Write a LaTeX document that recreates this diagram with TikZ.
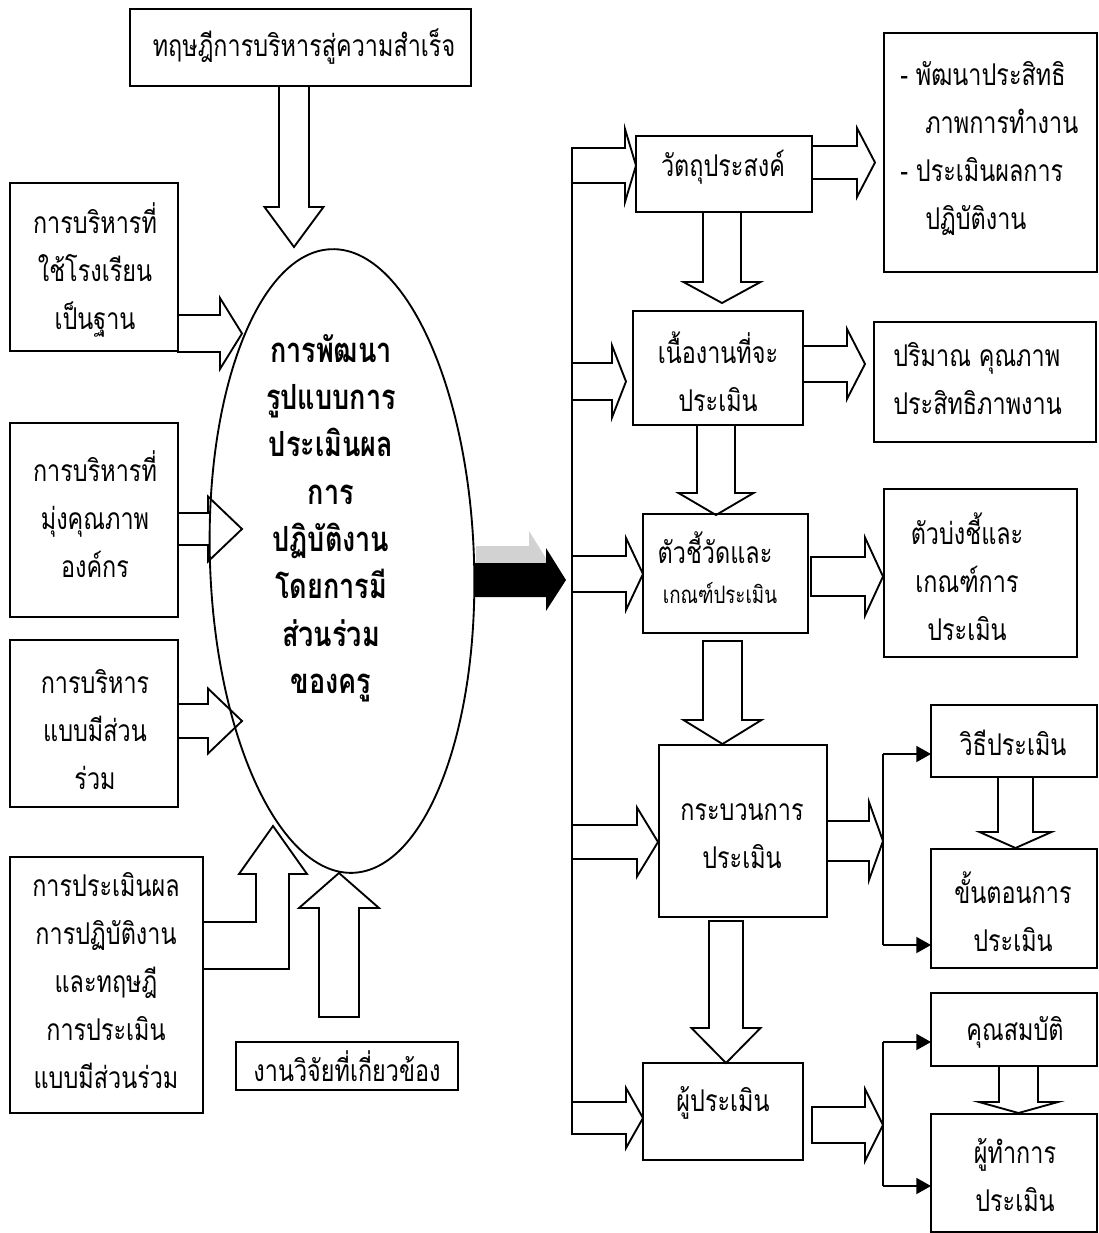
\documentclass[tikz,border=0pt]{standalone}
\usepackage{fontspec}
\newfontfamily\thaifont[Script=Thai,FakeStretch=0.78]{Loma}
\usetikzlibrary{fit,arrows.meta,shapes.geometric}
\newcommand{\RA}[6]{% x0, yc, shaft half, head half, x of head base, x of tip
  \draw[blk] (#1,#2-#3) -- (#5,#2-#3) -- (#5,#2-#4) -- (#6,#2) -- (#5,#2+#4) -- (#5,#2+#3) -- (#1,#2+#3) -- cycle;}
\newcommand{\DA}[6]{% xc, y0, shaft half, head half, y of head base, y of tip
  \draw[blk] (#1-#3,#2) -- (#1-#3,#5) -- (#1-#4,#5) -- (#1,#6) -- (#1+#4,#5) -- (#1+#3,#5) -- (#1+#3,#2) -- cycle;}
\begin{document}
\begin{tikzpicture}[x=0.75pt,y=-0.75pt,
  box/.style={draw, line width=1.4pt, inner sep=0pt, outer sep=0pt},
  blk/.style={draw, line width=1.4pt, line join=miter},
  txt/.style={font=\thaifont\fontsize{22.5}{36}\selectfont, align=center, inner sep=0pt},
  txtl/.style={font=\thaifont\fontsize{22.5}{36}\selectfont, align=left, inner sep=0pt, anchor=west},
  txtb/.style={font=\thaifont\bfseries\fontsize{26}{35.5}\selectfont, align=center, inner sep=0pt},
  thinl/.style={draw, line width=1.4pt},
  brarr/.style={draw, line width=1.4pt, -{Triangle[length=11pt,width=12pt]}}]
\useasboundingbox (0,0) rectangle (1099,1233);

% ---------------- left part ----------------
\node[box, fit={(130,9) (471,86)}] (T) {};
\node[txt] (Tt) at (304,47) {ทฤษฎีการบริหารสู่ความสำเร็จ};
\DA{294}{86}{15}{29.5}{207}{247}

\node[draw, ellipse, line width=1.4pt, minimum width=198pt, minimum height=468pt, inner sep=0pt, rotate=2] (E) at (342,561) {};
\node[txtb] (Et) at (331,518) {การพัฒนา\\รูปแบบการ\\ประเมินผล\\การ\\ปฏิบัติงาน\\โดยการมี\\ส่วนร่วม\\ของครู};

\node[box, fit={(10,183) (178,351)}] (L1) {};
\node[txt] (L1t) at (95,270) {การบริหารที่\\ใช้โรงเรียน\\เป็นฐาน};
\RA{178}{333.5}{18.5}{35.5}{220}{242}

\node[box, fit={(10,423) (178,617)}] (L2) {};
\node[txt] (L2t) at (95,514) {การบริหารที่\\มุ่งคุณภาพ\\องค์กร};
\RA{178}{529}{16}{32.5}{208}{242}

\node[box, fit={(10,640) (178,807)}] (L3) {};
\node[txt] (L3t) at (95,730) {การบริหาร\\แบบมีส่วน\\ร่วม};
\RA{178}{721}{17}{32.5}{208}{242}

\node[box, fit={(10,857) (203,1113)}] (L4) {};
\node[txt] (L4t) at (106,981) {การประเมินผล\\การปฏิบัติงาน\\และทฤษฎี\\การประเมิน\\แบบมีส่วนร่วม};
\draw[blk] (L4.east |- 0,922) -- (256,922) -- (256,874) -- (239,874) -- (273,826) -- (307,874) -- (289,874) -- (289,969) -- (L4.east |- 0,969);

\node[box, fit={(236,1042) (458,1090)}] (R) {};
\node[txt] (Rt) at (347,1066) {งานวิจัยที่เกี่ยวข้อง};
\DA{339}{1017}{20}{40}{908}{873}

% ---------------- big black arrow ----------------
\fill[gray!35] (476,546) -- (529,546) -- (529,531) -- (549,563) -- (529,594) -- (529,580) -- (476,580) -- cycle;
\fill[black] (474,563) -- (546,563) -- (546,548) -- (566,580) -- (546,611) -- (546,597) -- (474,597) -- cycle;

% ---------------- spine ----------------
\coordinate (vtop) at (572,148);
\coordinate (vbot) at (572,1134);
\draw[thinl] (vtop) -- (vbot);
\RA{572}{165.5}{17.5}{36.5}{625}{636}
\RA{572}{381.5}{18.5}{36}{612}{626}
\RA{572}{574}{18}{36}{626}{643}
\RA{572}{842}{17}{34.5}{637}{658}
\RA{572}{1118}{16}{30}{626}{643}

% ---------------- column 1 ----------------
\node[box, fit={(636,136) (812,212)}] (B1) {};
\node[txt] (B1t) at (723,167) {วัตถุประสงค์};
\node[box, fit={(633,311) (803,425)}] (B2) {};
\node[txt] (B2t) at (718,372) {เนื้องานที่จะ\\ประเมิน};
\node[box, fit={(643,514) (808,633)}] (B3) {};
\node[txt] (B3a) at (715,548) {ตัวชี้วัดและ};
\node[txt, font=\thaifont\fontsize{18}{20}\selectfont] (B3b) at (720,593) {เกณฑ์ประเมิน};
\node[box, fit={(659,745) (827,917)}] (B4) {};
\node[txt] (B4t) at (742,836) {กระบวนการ\\ประเมิน};
\node[box, fit={(643,1063) (803,1160)}] (B5) {};
\node[txt] (B5t) at (723,1103) {ผู้ประเมิน};

\DA{722}{212}{19}{38.5}{282}{303}
\DA{716}{425}{19}{37.5}{493}{515}
\DA{722.5}{641}{19.5}{39}{720}{744}
\DA{726}{921}{17}{34.5}{1028}{1063}

\RA{812}{162.5}{16.5}{34.5}{857}{875}
\RA{803}{364}{18}{35}{847}{865}
\RA{811}{576.5}{19.5}{39}{865}{883}
\RA{827}{841}{20}{39}{869}{883}
\RA{812}{1125}{18}{36}{865}{883}

% ---------------- column 2 ----------------
\node[box, fit={(884,33) (1097,272)}] (C1) {};
\node[txtl] (C1t) at (900,148.5) {- พัฒนาประสิทธิ\\\hspace*{18.75pt}ภาพการทำงาน\\- ประเมินผลการ\\\hspace*{18.75pt}ปฏิบัติงาน};
\node[box, fit={(874,322) (1096,442)}] (C2) {};
\node[txtl] (C2t) at (893,379) {ปริมาณ คุณภาพ\\ประสิทธิภาพงาน};
\node[box, fit={(884,489) (1077,657)}] (C3) {};
\node[txt] (C3t) at (967,577) {ตัวบ่งชี้และ\\เกณฑ์การ\\ประเมิน};
\node[box, fit={(931,705) (1097,777)}] (C4) {};
\node[txt] (C4t) at (1013,743) {วิธีประเมิน};
\node[box, fit={(931,849) (1097,968)}] (C5) {};
\node[txt] (C5t) at (1013,912) {ขั้นตอนการ\\ประเมิน};
\node[box, fit={(931,993) (1097,1066)}] (C6) {};
\node[txt] (C6t) at (1015,1032) {คุณสมบัติ};
\node[box, fit={(931,1114) (1097,1232)}] (C7) {};
\node[txt] (C7t) at (1015,1175) {ผู้ทำการ\\ประเมิน};

\DA{1015.5}{777}{17.5}{36}{832}{848}
\DA{1018.5}{1066}{19.5}{39.5}{1102}{1113}

% branches
\coordinate (j1a) at (883,754);
\coordinate (j1b) at (883,945);
\draw[thinl] (j1a) -- (j1b);
\draw[brarr] (j1a) -- (j1a -| C4.west);
\draw[brarr] (j1b) -- (j1b -| C5.west);
\coordinate (j2a) at (883,1042);
\coordinate (j2b) at (883,1186);
\draw[thinl] (j2a) -- (j2b);
\draw[brarr] (j2a) -- (j2a -| C6.west);
\draw[brarr] (j2b) -- (j2b -| C7.west);
\end{tikzpicture}
\end{document}
